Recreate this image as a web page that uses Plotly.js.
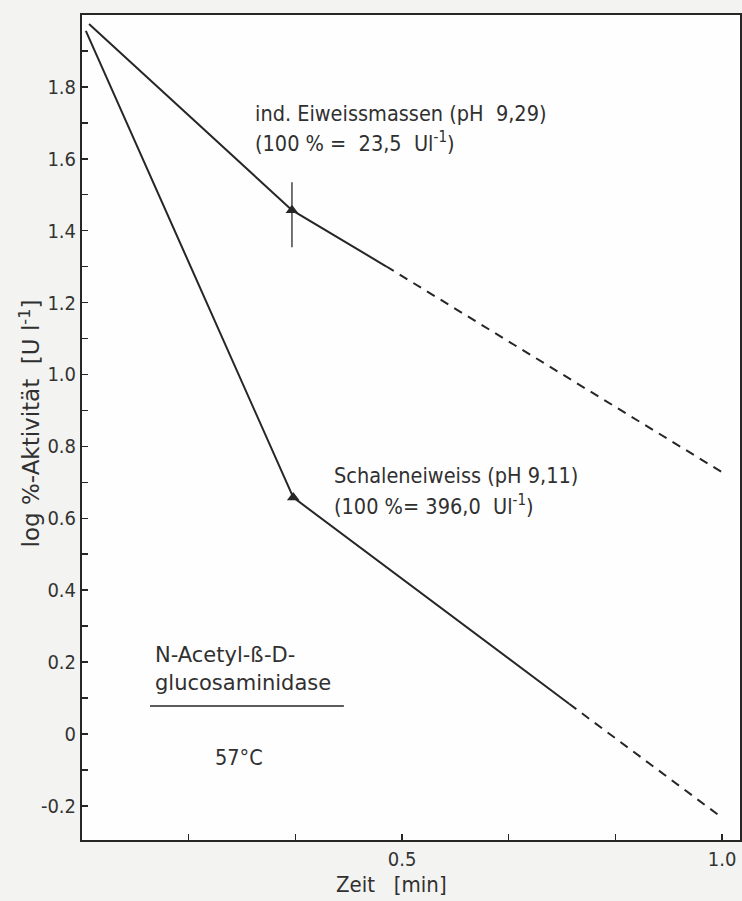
<!DOCTYPE html>
<html>
<head>
<meta charset="utf-8">
<script src="https://cdn.plot.ly/plotly-3.0.1.min.js"></script>
<style>
  html, body { margin: 0; padding: 0; background: #f3f3f1; }
  #chart { width: 742px; height: 901px; }
</style>
</head>
<body>
<div id="chart"></div>
<script>
// ---- data ----
// ind. Eiweissmassen (pH 9,29): measured (solid) segment and extrapolated (dashed) segment
const eiweissX = [0.011, 0.328, 0.475];
const eiweissY = [1.975, 1.457, 1.301];
const eiweissDashX = [0.475, 1.0];
const eiweissDashY = [1.301, 0.728];
const eiweissPointX = [0.328];
const eiweissPointY = [1.457];
const eiweissErrPlus = [0.078];
const eiweissErrMinus = [0.103];

// Schaleneiweiss (pH 9,11)
const schaleX = [0.006, 0.330, 0.761];
const schaleY = [1.956, 0.658, 0.084];
const schaleDashX = [0.761, 1.0];
const schaleDashY = [0.084, -0.233];
const schalePointX = [0.330];
const schalePointY = [0.658];

// axis ticks
const yTickVals = [1.8, 1.6, 1.4, 1.2, 1.0, 0.8, 0.6, 0.4, 0.2, 0, -0.2];
const yTickText = ['1.8', '1.6', '1.4', '1.2', '1.0', '0.8', '0.6', '0.4', '0.2', '0', '-0.2'];
const xTickVals = [0.5, 1.0];
const xTickText = ['0.5', '1.0'];
const xMinorStep = 1 / 6;   // 10 s
const yMinorStep = 0.1;

// ---- drawing ----
const ink = '#262626';
const FONT = '"DejaVu Sans Condensed", "DejaVu Sans", sans-serif';
const FONT_WIDE = '"DejaVu Sans", sans-serif';

const traces = [
  { x: eiweissX, y: eiweissY, mode: 'lines', line: { color: ink, width: 2 }, hoverinfo: 'skip' },
  { x: eiweissDashX, y: eiweissDashY, mode: 'lines', line: { color: ink, width: 2, dash: '9px,7px' }, hoverinfo: 'skip' },
  { x: schaleX, y: schaleY, mode: 'lines', line: { color: ink, width: 2 }, hoverinfo: 'skip' },
  { x: schaleDashX, y: schaleDashY, mode: 'lines', line: { color: ink, width: 2, dash: '9px,7px' }, hoverinfo: 'skip' },
  { x: eiweissPointX, y: eiweissPointY, mode: 'markers',
    marker: { symbol: 'triangle-up', size: 11, color: ink },
    error_y: { type: 'data', symmetric: false, array: eiweissErrPlus, arrayminus: eiweissErrMinus,
               color: '#444', thickness: 1.5, width: 0 } },
  { x: schalePointX, y: schalePointY, mode: 'markers',
    marker: { symbol: 'triangle-up', size: 11, color: ink } }
];

const txt = (text, x, y, size, family) => ({
  text: text, xref: 'paper', yref: 'paper', x: x, y: y,
  xanchor: 'left', yanchor: 'middle', showarrow: false,
  font: { family: family || FONT, size: size || 21.5, color: '#303030' }
});

const layout = {
  width: 742, height: 901,
  margin: { l: 82, r: 2, t: 15, b: 61 },
  paper_bgcolor: '#f3f3f1',
  plot_bgcolor: '#fefefe',
  showlegend: false,
  font: { family: FONT, size: 20, color: '#333' },
  xaxis: {
    range: [0, 1.028],
    tickvals: xTickVals, ticktext: xTickText,
    ticks: 'inside', ticklen: 6, tickwidth: 1.5, tickcolor: ink,
    minor: { dtick: xMinorStep, tick0: 0, ticks: 'inside', ticklen: 6, tickwidth: 1.5, tickcolor: ink, showgrid: false },
    showline: true, linecolor: ink, linewidth: 2, mirror: true,
    showgrid: false, zeroline: false,
    tickfont: { family: FONT, size: 20, color: '#333' }
  },
  yaxis: {
    range: [-0.295, 2.0],
    tickvals: yTickVals, ticktext: yTickText,
    ticks: 'inside', ticklen: 6, tickwidth: 1.5, tickcolor: ink,
    minor: { dtick: yMinorStep, tick0: 0, ticks: 'inside', ticklen: 6, tickwidth: 1.5, tickcolor: ink, showgrid: false },
    showline: true, linecolor: ink, linewidth: 2, mirror: true,
    showgrid: false, zeroline: false,
    tickfont: { family: FONT, size: 20, color: '#333' }
  },
  annotations: [
    txt('ind. Eiweissmassen (pH  9,29)', 0.26, 0.881),
    txt('(100 % =  23,5  Ul<sup>-1</sup>)', 0.26, 0.846),
    txt('Schaleneiweiss (pH 9,11)', 0.38, 0.442),
    txt('(100 %= 396,0  Ul<sup>-1</sup>)', 0.38, 0.406),
    txt('N-Acetyl-ß-D-', 0.108, 0.224, 21, FONT_WIDE),
    txt('glucosaminidase', 0.108, 0.190, 21, FONT_WIDE),
    txt('57°C', 0.199, 0.0994, 21.5),
    { text: 'log %-Aktivität  [U l<sup>-1</sup>]', xref: 'paper', yref: 'paper',
      x: -0.079, y: 0.505, xanchor: 'center', yanchor: 'middle', textangle: -90,
      showarrow: false, font: { family: FONT_WIDE, size: 23, color: '#303030' } },
    { text: 'Zeit   [min]', xref: 'paper', yref: 'paper',
      x: 0.471, y: -0.0545, xanchor: 'center', yanchor: 'middle',
      showarrow: false, font: { family: FONT, size: 22, color: '#303030' } }
  ],
  shapes: [
    { type: 'line', xref: 'paper', yref: 'paper', x0: 0.1033, x1: 0.398, y0: 0.1624, y1: 0.1624,
      line: { color: ink, width: 1.5 } }
  ]
};

Plotly.newPlot('chart', traces, layout, { displayModeBar: false, staticPlot: true });
</script>
</body>
</html>
